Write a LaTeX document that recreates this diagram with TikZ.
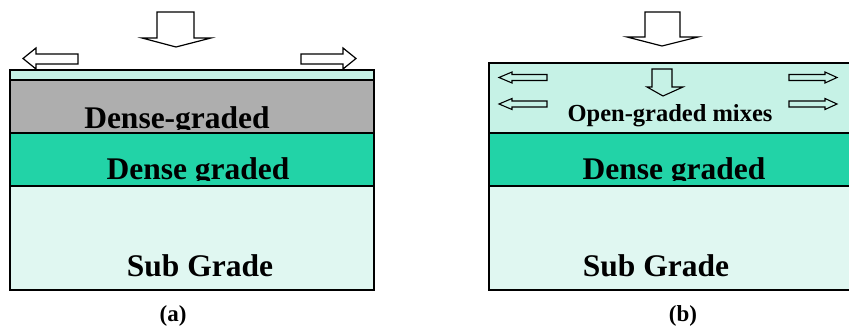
\documentclass[tikz,border=0pt]{standalone}
\usepackage{fontspec}
\setmainfont{Liberation Serif}
\definecolor{mintlight}{HTML}{C6F2E6}
\definecolor{subgr}{HTML}{E0F7F1}
\definecolor{graylay}{HTML}{AEAEAE}
\definecolor{greenlay}{HTML}{22D3A7}
\tikzset{
  layer/.style={draw=black, line width=1.6pt},
  arr/.style={draw=black, line width=1.2pt, fill=white, line join=miter},
  arrb/.style={draw=black, line width=1.1pt, fill=mintlight, line join=miter},
  bigtxt/.style={font=\fontsize{31.5}{31.5}\selectfont\bfseries, inner sep=0pt, anchor=base},
  midtxt/.style={font=\fontsize{24.5}{24.5}\selectfont\bfseries, inner sep=0pt, anchor=base},
  captxt/.style={font=\fontsize{23}{23}\selectfont\bfseries, inner sep=0pt, anchor=base},
}
\begin{document}
\begin{tikzpicture}[x=1pt,y=-1pt]
\useasboundingbox[fill=white] (0,0) rectangle (849,332);
\begin{scope}
\clip (0,0) rectangle (849,332);
% ---------- panel (a) ----------
\fill[subgr] (10,186) rectangle (374,290);
\draw[layer] (10,186) rectangle (374,290);
\node[bigtxt] (subA) at (200,276) {Sub Grade};
\fill[greenlay] (10,133) rectangle (374,186);
\begin{scope}
\clip (0,133) rectangle (849,180.5);
\node[bigtxt] (denseA) at (198,179) {Dense graded};
\end{scope}
\draw[layer] (10,133) rectangle (374,186);
\fill[graylay] (10,80) rectangle (374,133);
\begin{scope}
\clip (0,80) rectangle (849,129.5);
\node[bigtxt] (denseHA) at (177,128) {Dense-graded};
\end{scope}
\draw[layer] (10,80) rectangle (374,133);
\fill[mintlight] (10,70) rectangle (374,80);
\draw[layer] (10,70) rectangle (374,80);
% arrows (a)
\draw[arr] (157,12) -- (194,12) -- (194,38) -- (211,38) -- (176,47) -- (142,38) -- (157,38) -- cycle;
\draw[arr] (78,54) -- (36,54) -- (36,48) -- (23,58.5) -- (36,69) -- (36,64) -- (78,64) -- cycle;
\draw[arr] (301,54) -- (343,54) -- (343,48) -- (356,58.5) -- (343,69) -- (343,64) -- (301,64) -- cycle;
\node[captxt] (capA) at (173,321) {(a)};
% ---------- panel (b) ----------
\fill[subgr] (489,186) rectangle (860,290);
\draw[layer] (489,186) rectangle (860,290);
\node[bigtxt] (subB) at (656,276) {Sub Grade};
\fill[greenlay] (489,133) rectangle (860,186);
\begin{scope}
\clip (0,133) rectangle (849,180.5);
\node[bigtxt] (denseB) at (674,179) {Dense graded};
\end{scope}
\draw[layer] (489,133) rectangle (860,186);
\fill[mintlight] (489,63) rectangle (860,133);
\draw[layer] (489,63) rectangle (860,133);
\node[midtxt] (openB) at (670,121) {Open-graded mixes};
% arrows (b)
\draw[arr] (645,12) -- (680,12) -- (680,37) -- (698,37) -- (662,46) -- (627,37) -- (645,37) -- cycle;
\draw[arrb] (652,69) -- (672,69) -- (672,87) -- (683,87) -- (663,96) -- (647,87) -- (652,87) -- cycle;
\foreach \yy in {77.5,104}{
  \draw[arrb] (547,\yy-3) -- (512,\yy-3) -- (512,\yy-5.5) -- (499,\yy) -- (512,\yy+5.5) -- (512,\yy+3) -- (547,\yy+3) -- cycle;
  \draw[arrb] (789,\yy-3) -- (825,\yy-3) -- (825,\yy-5.5) -- (837,\yy) -- (825,\yy+5.5) -- (825,\yy+3) -- (789,\yy+3) -- cycle;
}
\node[captxt] (capB) at (683,321) {(b)};
\end{scope}
\end{tikzpicture}
\end{document}
